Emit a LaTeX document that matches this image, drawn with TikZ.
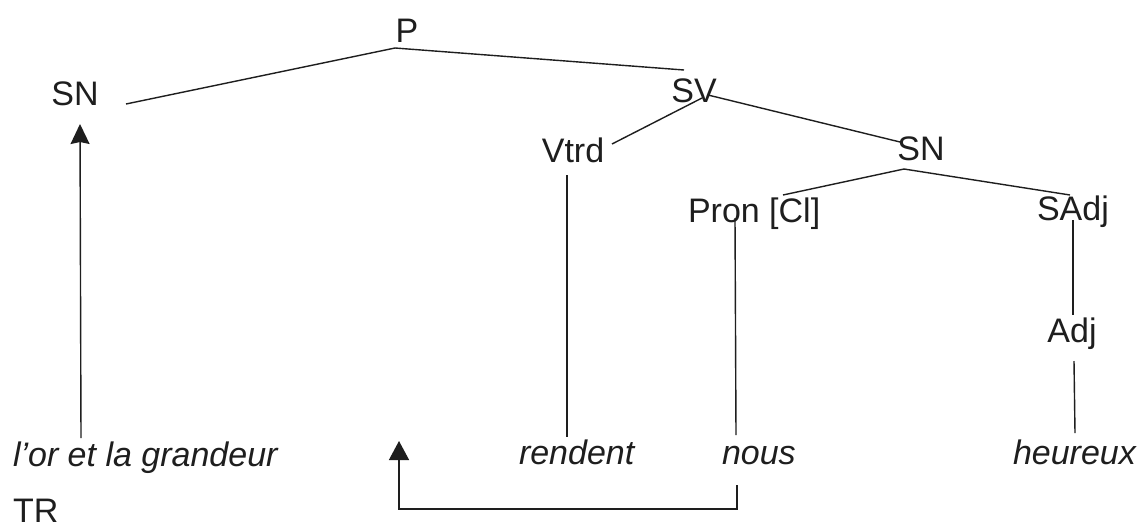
\documentclass[tikz,border=0pt]{standalone}
\usepackage{fontspec}
\setmainfont{Liberation Sans}
\usetikzlibrary{arrows.meta}
\definecolor{ink}{HTML}{1E1E1E}
\tikzset{
  lbl/.style={inner sep=0pt, outer sep=0pt, text=ink, font=\fontsize{34}{40}\selectfont},
  word/.style={lbl, font=\fontsize{34}{40}\selectfont\itshape},
  branch/.style={draw=ink, line width=1.4pt},
  trace/.style={draw=ink, line width=1.4pt, -{Stealth[length=20pt,width=19pt,inset=2pt]}},
  move/.style={draw=ink, line width=1.4pt, -{Triangle[length=19pt,width=20pt]}}
}
\begin{document}
\begin{tikzpicture}[x=1pt,y=-1pt]
\useasboundingbox[fill=white] (0,0) rectangle (1138,531);

% category labels
\node[lbl, anchor=base] (P) at (407,42) {P};
\node[lbl, anchor=base] (SNa) at (75,105) {SN};
\node[lbl, anchor=base] (SV) at (694,102) {SV};
\node[lbl, anchor=base] (Vtrd) at (573,162) {Vtrd};
\node[lbl, anchor=base] (SNb) at (921,160) {SN};
\node[lbl, anchor=base west] (Pron) at (688,222) {Pron [Cl]};
\node[lbl, anchor=base west] (SAdj) at (1037,220) {SAdj};
\node[lbl, anchor=base] (Adj) at (1072,342) {Adj};

% terminal words
\node[word, anchor=base west] (lor) at (13,466) {l’or et la grandeur};
\node[word, anchor=base west] (rendent) at (519,464) {rendent};
\node[word, anchor=base west] (nous) at (722,464) {nous};
\node[word, anchor=base west] (heureux) at (1013,464) {heureux};
\node[lbl, anchor=base west] (TR) at (13,522) {TR};

% tree branches
\draw[branch] ([shift={(51,-1)}]SNa.base) -- ([shift={(-12,6)}]P.base) -- ([shift={(-10,-32)}]SV.base);
\draw[branch] ([shift={(8,-4)}]SV.base) -- ([shift={(39,-18)}]Vtrd.base);
\draw[branch] ([shift={(14,-7)}]SV.base) -- ([shift={(-21,-18)}]SNb.base);
\draw[branch] ([shift={(95,-27)}]Pron.base west) -- ([shift={(-17,9)}]SNb.base) -- ([shift={(33,-25)}]SAdj.base west);
\draw[branch] ([shift={(-6,13)}]Vtrd.base) -- ([shift={(48,-27)}]rendent.base west);
\draw[branch] ([shift={(47,-4)}]Pron.base west) -- ([shift={(14,-29)}]nous.base west);
\draw[branch] ([shift={(36,0)}]SAdj.base west) -- ([shift={(1,-27)}]Adj.base);
\draw[branch] ([shift={(2,19)}]Adj.base) -- ([shift={(62,-31)}]heureux.base west);

% trace of the fronted subject
\draw[trace] ([shift={(68,-28)}]lor.base west) -- ([shift={(5,19)}]SNa.base);

% movement of the clitic
\coordinate (landing) at (399,441);
\coordinate (elbow) at (399,509);
\draw[move] ([shift={(15,21)}]nous.base west) |- (elbow) -- (landing);
\end{tikzpicture}
\end{document}
